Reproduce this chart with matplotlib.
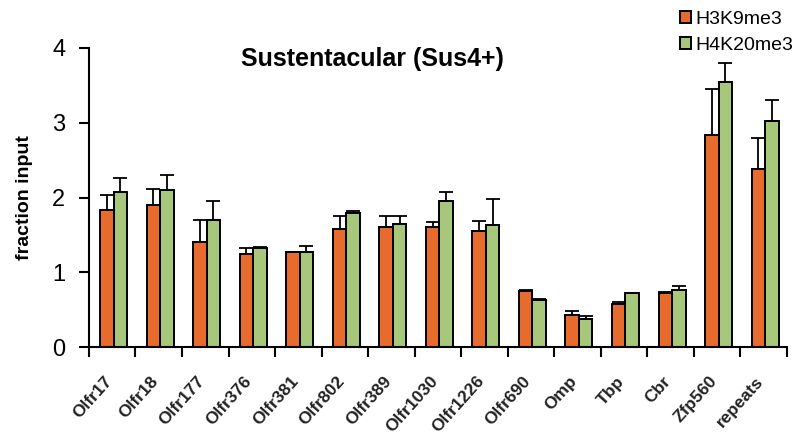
import numpy as np
import matplotlib
matplotlib.use('Agg')
import matplotlib.pyplot as plt

plt.rcParams['font.family'] = ['Liberation Sans', 'DejaVu Sans']

# Dados
genes = ['Olfr17', 'Olfr18', 'Olfr177', 'Olfr376', 'Olfr381', 'Olfr802', 'Olfr389',
         'Olfr1030', 'Olfr1226', 'Olfr690', 'Omp', 'Tbp', 'Cbr', 'Zfp560', 'repeats']
h3k9 = [1.83, 1.90, 1.40, 1.25, 1.27, 1.58, 1.60, 1.60, 1.55, 0.75, 0.43, 0.58, 0.73, 2.83, 2.38]
h3k9_err = [0.20, 0.22, 0.30, 0.08, 0.00, 0.17, 0.15, 0.07, 0.13, 0.02, 0.05, 0.02, 0.01, 0.62, 0.42]
h4k20 = [2.07, 2.10, 1.70, 1.33, 1.27, 1.80, 1.65, 1.95, 1.63, 0.63, 0.37, 0.72, 0.76, 3.55, 3.03]
h4k20_err = [0.19, 0.20, 0.25, 0.01, 0.08, 0.02, 0.10, 0.12, 0.35, 0.02, 0.04, 0.01, 0.06, 0.25, 0.27]

x = np.arange(len(genes))
w = 0.29

fig = plt.figure(figsize=(8.01, 4.40), dpi=100)
ax = fig.add_axes([0.111, 0.211, 0.8715, 0.68])

err_kw = dict(ecolor='black', elinewidth=1.3, capsize=5, capthick=1.3)
ax.bar(x - w / 2 + 0.03, h3k9, w, color='#E66B2C', edgecolor='black', linewidth=1.4,
       yerr=[np.zeros(len(x)), h3k9_err], error_kw=err_kw, label='H3K9me3')
ax.bar(x + w / 2 + 0.03, h4k20, w, color='#A7C77B', edgecolor='black', linewidth=1.4,
       yerr=[np.zeros(len(x)), h4k20_err], error_kw=err_kw, label='H4K20me3')

ax.set_xlim(-0.5, len(genes) - 0.5)
ax.set_ylim(0, 4)
ax.set_yticks([0, 1, 2, 3, 4])
ax.tick_params(axis='y', labelsize=17, width=1.5, length=7, pad=10)

ax.set_xticks(np.arange(len(genes) + 1) - 0.5)
ax.set_xticklabels([])
ax.tick_params(axis='x', width=1.5, length=7)
for i, g in enumerate(genes):
    ax.text(i - 0.06, -0.42, g, rotation=48, ha='right', va='center', rotation_mode='anchor',
            fontsize=12.5, fontweight='bold', color='#222222', clip_on=False)

for s in ['top', 'right']:
    ax.spines[s].set_visible(False)
for s in ['left', 'bottom']:
    ax.spines[s].set_linewidth(1.5)

ax.set_ylabel('fraction input', fontsize=14, fontweight='bold', labelpad=14)
fig.text(0.465, 0.865, 'Sustentacular (Sus4+)', ha='center', va='center',
         fontsize=18, fontweight='bold')

fig.legend(loc='upper right', bbox_to_anchor=(1.012, 1.015), frameon=False, fontsize=14,
           handlelength=0.6, handleheight=0.6, handletextpad=0.2, labelspacing=0.45)

plt.savefig('out.png', dpi=100)
